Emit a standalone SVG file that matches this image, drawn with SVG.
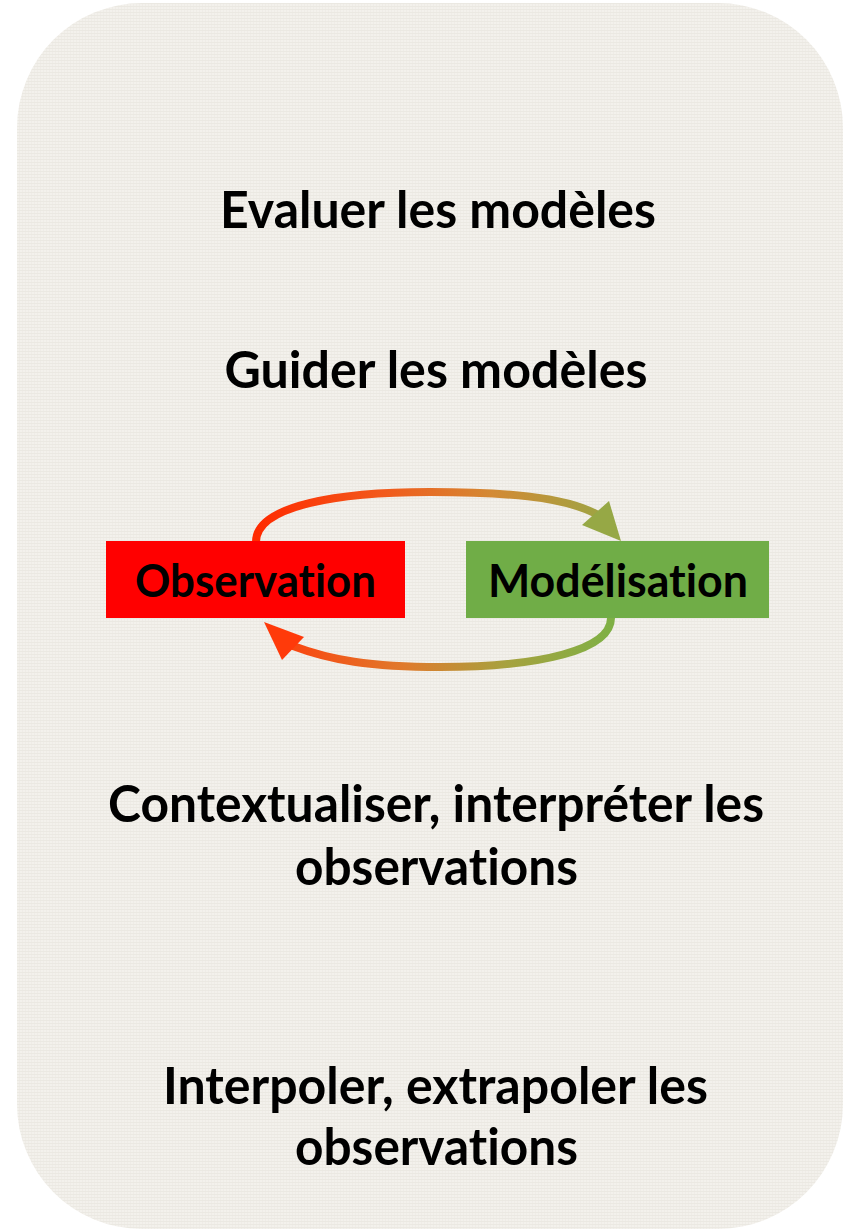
<svg xmlns="http://www.w3.org/2000/svg" width="844" height="1230" viewBox="0 0 844 1230">
  <style>
    .lbl { font-family: Lato, "Open Sans", "Liberation Sans", sans-serif; font-weight: bold; fill: #000; text-anchor: middle; font-variant-ligatures: none; font-feature-settings: "liga" 0, "clig" 0; }
    .big { font-size: 51px; }
    .box { font-size: 46px; }
    .arc { fill: none; stroke-width: 8; stroke-linecap: round; }
  </style>
  <defs>
    <!-- fine linen weave for the card -->
    <pattern id="linen" width="6" height="6" patternUnits="userSpaceOnUse">
      <rect width="6" height="6" fill="#f3f1ec"/>
      <path d="M0 0.5H6M0 3.5H6" stroke="#e9e6df" stroke-width="1" opacity="0.7"/>
      <path d="M1.5 0V6M4.5 0V6" stroke="#ebe8e1" stroke-width="1" opacity="0.5"/>
    </pattern>
    <linearGradient id="gTop" gradientUnits="userSpaceOnUse" x1="256" y1="0" x2="620" y2="0">
      <stop offset="0" stop-color="#ff2a00"/>
      <stop offset="0.35" stop-color="#f25a1c"/>
      <stop offset="0.65" stop-color="#d38a34"/>
      <stop offset="1" stop-color="#96a845"/>
    </linearGradient>
    <linearGradient id="gBot" gradientUnits="userSpaceOnUse" x1="611" y1="0" x2="265" y2="0">
      <stop offset="0" stop-color="#7fb045"/>
      <stop offset="0.3" stop-color="#a6a23f"/>
      <stop offset="0.6" stop-color="#e07a2c"/>
      <stop offset="1" stop-color="#ff3a0a"/>
    </linearGradient>
  </defs>

  <rect x="0" y="0" width="844" height="1230" fill="#ffffff"/>
  <rect id="card" x="17" y="3" width="826" height="1226" rx="125" ry="125" fill="url(#linen)"/>

  <g id="t-evaluer"><text class="lbl big" x="438" y="228" textLength="436" lengthAdjust="spacingAndGlyphs">Evaluer les modèles</text></g>
  <g id="t-guider"><text class="lbl big" x="436" y="388" textLength="423" lengthAdjust="spacingAndGlyphs">Guider les modèles</text></g>

  <g id="connectors">
    <path class="arc" stroke="url(#gTop)" d="M256 542 C256 505 340 492 430 492 C500 492 565 496 598 515"/>
    <polygon points="621,541 582,525 609,501" fill="#96a845"/>
    <path class="arc" stroke="url(#gBot)" d="M611 618 C611 650 540 667 440 667 C370 667 330 660 293 646"/>
    <polygon points="264,622 282,660 304,637" fill="#ff3a0a"/>
  </g>

  <g id="observation">
    <rect x="106" y="541" width="299" height="77" fill="#ff0000"/>
    <text class="lbl box" x="255.5" y="597" textLength="241" lengthAdjust="spacingAndGlyphs">Observation</text>
  </g>
  <g id="modelisation">
    <rect x="466" y="541" width="303" height="77" fill="#70ad47"/>
    <text class="lbl box" x="618" y="597" textLength="260" lengthAdjust="spacingAndGlyphs">Modélisation</text>
  </g>

  <g id="t-contextualiser">
    <text class="lbl big" x="436" y="822" textLength="656" lengthAdjust="spacingAndGlyphs">Contextualiser, interpréter les</text>
    <text class="lbl big" x="436.5" y="885" textLength="283" lengthAdjust="spacingAndGlyphs">observations</text>
  </g>
  <g id="t-interpoler">
    <text class="lbl big" x="435.5" y="1104" textLength="545" lengthAdjust="spacingAndGlyphs">Interpoler, extrapoler les</text>
    <text class="lbl big" x="436.5" y="1165" textLength="283" lengthAdjust="spacingAndGlyphs">observations</text>
  </g>
</svg>
